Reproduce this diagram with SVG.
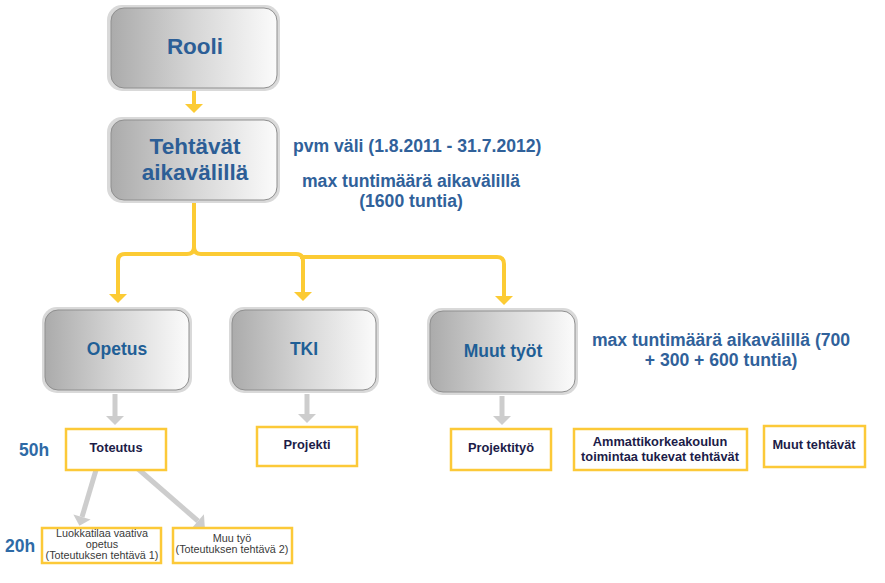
<svg xmlns="http://www.w3.org/2000/svg" width="885" height="583" viewBox="0 0 885 583">
<defs>
<linearGradient id="g" x1="0" y1="0" x2="1" y2="0">
<stop offset="0" stop-color="#ababab"/>
<stop offset="0.5" stop-color="#d6d6d6"/>
<stop offset="1" stop-color="#fbfbfb"/>
</linearGradient>
<marker id="ya" markerUnits="userSpaceOnUse" markerWidth="20" markerHeight="20" refX="0" refY="0" orient="auto" overflow="visible">
<path d="M0,-9 L9,0 L0,9 Z" fill="#fccb34"/>
</marker>
<marker id="ga" markerUnits="userSpaceOnUse" markerWidth="20" markerHeight="20" refX="0" refY="0" orient="auto" overflow="visible">
<path d="M0,-9 L9,0 L0,9 Z" fill="#cdcdcd"/>
</marker>
</defs>
<style>
.outer{fill:#d9d9d9;}
.inner{fill:url(#g);stroke:#8f8f8f;stroke-width:1;}
.big{font-family:"Liberation Sans",Arial,sans-serif;font-weight:bold;fill:#2c5e96;text-anchor:middle;}
.mid{font-family:"Liberation Sans",Arial,sans-serif;font-weight:bold;fill:#1f5f96;text-anchor:middle;font-size:17.5px;}
.side{font-family:"Liberation Sans",Arial,sans-serif;font-weight:bold;fill:#30619a;font-size:17.6px;}
.yb{fill:#fff;stroke:#fcc938;stroke-width:2.5;}
.bt{font-family:"Liberation Sans",Arial,sans-serif;font-weight:bold;fill:#1c1c48;text-anchor:middle;font-size:12.8px;}
.st{font-family:"Liberation Sans",Arial,sans-serif;fill:#3a3a3a;text-anchor:middle;font-size:10.8px;}
.hrs{font-family:"Liberation Sans",Arial,sans-serif;font-weight:bold;fill:#2e6aa6;font-size:17.5px;}
.yl{fill:none;stroke:#fccb34;stroke-width:4;}
.gl{fill:none;stroke:#cdcdcd;stroke-width:5;}
</style>

<g id="connectors">
<path class="yl" d="M194,91 V104" marker-end="url(#ya)"/>
<path class="yl" d="M194,202 V247 Q194,254 187,254 H125 Q118,254 118,261 V294" marker-end="url(#ya)"/>
<path class="yl" d="M194,247 Q194,254 201,254 H296 Q303,254 303,261 V292" marker-end="url(#ya)"/>
<path class="yl" d="M300,257 H497 Q504,257 504,264 V296" marker-end="url(#ya)"/>
<path class="gl" d="M115,394 V416" marker-end="url(#ga)"/>
<path class="gl" d="M307,394 V414" marker-end="url(#ga)"/>
<path class="gl" d="M502,396 V416" marker-end="url(#ga)"/>
<path class="gl" d="M96,470 L82,517" marker-end="url(#ga)"/>
<path class="gl" d="M137,468 L198,521" marker-end="url(#ga)"/>
</g>

<g id="rooli">
<rect class="outer" x="107" y="5" width="173" height="86" rx="15"/>
<rect class="inner" x="111" y="8" width="166" height="80" rx="13"/>
<text class="big" x="195" y="54" font-size="22.5">Rooli</text>
</g>

<g id="tehtavat">
<rect class="outer" x="107" y="117" width="173" height="86" rx="15"/>
<rect class="inner" x="111" y="120" width="166" height="80" rx="13"/>
<text class="big" x="195" y="154" font-size="22.5">Tehtävät</text>
<text class="big" x="195" y="180" font-size="22.5">aikavälillä</text>
</g>

<g id="side-texts">
<text class="side" x="293" y="152">pvm väli (1.8.2011 - 31.7.2012)</text>
<text class="side" x="411" y="187" text-anchor="middle">max tuntimäärä aikavälillä</text>
<text class="side" x="411" y="207" text-anchor="middle">(1600 tuntia)</text>
<text class="side" x="721" y="346" text-anchor="middle">max tuntimäärä aikavälillä (700</text>
<text class="side" x="721" y="366" text-anchor="middle">+ 300 + 600 tuntia)</text>
</g>

<g id="opetus">
<rect class="outer" x="42" y="307" width="150" height="86" rx="15"/>
<rect class="inner" x="45" y="310" width="144" height="80" rx="13"/>
<text class="mid" x="117" y="355">Opetus</text>
</g>

<g id="tki">
<rect class="outer" x="229" y="307" width="150" height="86" rx="15"/>
<rect class="inner" x="232" y="310" width="144" height="80" rx="13"/>
<text class="mid" x="304" y="355">TKI</text>
</g>

<g id="muut-tyot">
<rect class="outer" x="427" y="308" width="151" height="87" rx="15"/>
<rect class="inner" x="430" y="311" width="145" height="81" rx="13"/>
<text class="mid" x="503" y="357">Muut työt</text>
</g>

<g id="toteutus">
<rect class="yb" x="66" y="429" width="100" height="41"/>
<text class="bt" x="116" y="452">Toteutus</text>
</g>

<g id="projekti">
<rect class="yb" x="257" y="427" width="100" height="39"/>
<text class="bt" x="307" y="449">Projekti</text>
</g>

<g id="projektityo">
<rect class="yb" x="451" y="429" width="100" height="41"/>
<text class="bt" x="501" y="452">Projektityö</text>
</g>

<g id="amk">
<rect class="yb" x="574" y="429" width="173" height="41"/>
<text class="bt" x="660" y="446">Ammattikorkeakoulun</text>
<text class="bt" x="660" y="461">toimintaa tukevat tehtävät</text>
</g>

<g id="muut-tehtavat">
<rect class="yb" x="764" y="426" width="101" height="41"/>
<text class="bt" x="814" y="449">Muut tehtävät</text>
</g>

<g id="luokkatilaa">
<rect class="yb" x="42" y="528" width="119" height="35"/>
<text class="st" x="102" y="537">Luokkatilaa vaativa</text>
<text class="st" x="102" y="548">opetus</text>
<text class="st" x="102" y="559">(Toteutuksen tehtävä 1)</text>
</g>

<g id="muu-tyo">
<rect class="yb" x="173" y="528" width="119" height="35"/>
<text class="st" x="232" y="542">Muu työ</text>
<text class="st" x="232" y="553">(Toteutuksen tehtävä 2)</text>
</g>

<g id="hours">
<text class="hrs" x="19" y="456">50h</text>
<text class="hrs" x="5" y="552">20h</text>
</g>
</svg>
